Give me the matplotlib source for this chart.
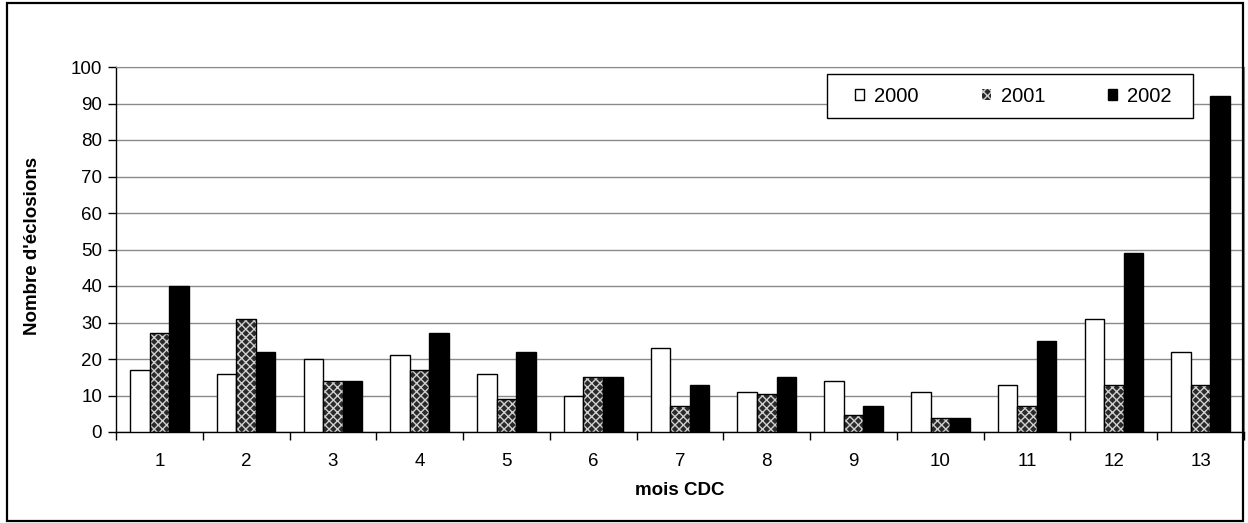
import numpy as np
import matplotlib
matplotlib.use("Agg")
import matplotlib.pyplot as plt
from matplotlib.patches import Rectangle

plt.rcParams['font.family'] = ['Liberation Sans', 'DejaVu Sans']
plt.rcParams['hatch.linewidth'] = 1.0

mois = ["1", "2", "3", "4", "5", "6", "7", "8", "9", "10", "11", "12", "13"]
annees = ["2000", "2001", "2002"]
eclosions_2000 = [17, 16, 20, 21, 16, 10, 23, 11, 14, 11, 13, 31, 22]
eclosions_2001 = [27, 31, 14, 17, 9, 15, 7, 10.5, 4.7, 3.7, 7, 13, 13]
eclosions_2002 = [40, 22, 14, 27, 22, 15, 13, 15, 7, 3.7, 25, 49, 92]

W, H = 1248, 523
fig = plt.figure(figsize=(W / 100, H / 100), dpi=100)

# cadre autour du graphique
fig.patches.append(Rectangle((7 / W, 2 / H), (1243 - 7) / W, (521 - 3) / H,
                             transform=fig.transFigure, fill=False,
                             edgecolor='black', lw=1.6))

ax = fig.add_axes([116 / W, (H - 432) / H, (1244 - 116) / W, 365 / H])

x = np.arange(1, len(mois) + 1)
w = 0.225

ax.bar(x - w, eclosions_2000, width=w, facecolor='white', edgecolor='black',
       linewidth=1.0, label=annees[0], zorder=3)
# 2001 : motif clair sur fond sombre, puis contour noir par-dessus
ax.bar(x, eclosions_2001, width=w, facecolor='#2a2a2a', edgecolor='#d0d0d0',
       hatch='xxxx', linewidth=0, label=annees[1], zorder=3)
ax.bar(x, eclosions_2001, width=w, fill=False, edgecolor='black',
       linewidth=1.0, zorder=4)
ax.bar(x + w, eclosions_2002, width=w, facecolor='black', edgecolor='black',
       linewidth=1.0, label=annees[2], zorder=3)

ax.set_xlim(0.5, len(mois) + 0.5)
ax.set_ylim(0, 100)
ax.set_yticks(np.arange(0, 101, 10))
ax.yaxis.grid(True, color='#8a8a8a', lw=1.0, zorder=0)

# graduations entre les mois, libellés au centre
ax.set_xticks(np.arange(0.5, len(mois) + 1, 1))
ax.set_xticklabels([])
ax.set_xticks(x, minor=True)
ax.set_xticklabels(mois, minor=True)
ax.tick_params(axis='x', which='major', direction='out', length=6, width=1)
ax.tick_params(axis='x', which='minor', length=0, pad=15, labelsize=13.5)
ax.tick_params(axis='y', direction='out', length=6, width=1, labelsize=13.5, pad=4)

for s in ['top', 'right']:
    ax.spines[s].set_color('#8a8a8a')
for s in ['left', 'bottom']:
    ax.spines[s].set_color('black')
    ax.spines[s].set_linewidth(1.0)

ax.set_xlabel("mois CDC", fontsize=13.5, fontweight='bold', labelpad=9)
fig.text(33 / W, 1 - 246 / H, "Nombre d'éclosions", rotation=90,
         ha='center', va='center', fontsize=13.5, fontweight='bold')

# légende : cadre dessiné à part, entrées réparties à l'intérieur
ax.add_patch(Rectangle((827 / W, 1 - 118 / H), (1193 - 827) / W, 44 / H,
                       transform=fig.transFigure, facecolor='white',
                       edgecolor='black', lw=1.0, zorder=5, clip_on=False))
leg = ax.legend(loc='center', ncol=3, mode='expand',
                bbox_to_anchor=(855 / W, 1 - 118 / H, (1172 - 855) / W, 44 / H),
                bbox_transform=fig.transFigure, fontsize=14.5, frameon=False,
                handlelength=0.45, handleheight=0.45, handletextpad=0.5,
                borderaxespad=0, borderpad=0)
leg.set_zorder(6)

fig.savefig("out.png", dpi=100)
